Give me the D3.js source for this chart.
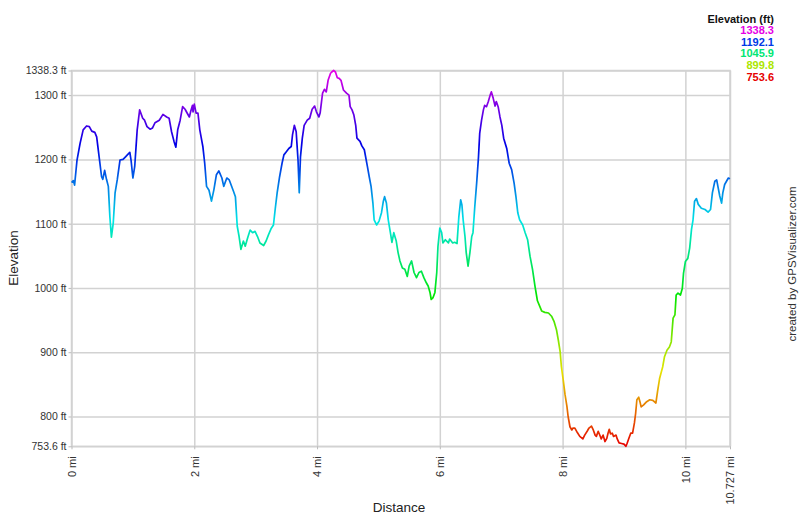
<!DOCTYPE html>
<html><head><meta charset="utf-8">
<script src="https://cdn.jsdelivr.net/npm/d3@7"></script>
<style>body{margin:0;background:#fff}svg{display:block;font-family:"Liberation Sans",Arial,sans-serif}</style>
</head><body><svg id="c" width="800" height="517"></svg>
<script>
const distance = [0,0.03,0.05,0.09,0.14,0.19,0.245,0.29,0.33,0.38,0.41,0.45,0.49,0.51,0.54,0.57,0.60,0.625,0.65,0.68,0.71,0.745,0.79,0.84,0.88,0.91,0.95,0.97,1.0,1.03,1.07,1.11,1.16,1.19,1.23,1.28,1.32,1.36,1.43,1.49,1.55,1.59,1.63,1.67,1.70,1.73,1.77,1.81,1.85,1.89,1.92,1.94,1.97,1.98,2.0,2.03,2.06,2.09,2.14,2.17,2.20,2.24,2.28,2.32,2.36,2.40,2.45,2.48,2.53,2.57,
2.64,2.67,2.70,2.73,2.76,2.80,2.83,2.87,2.91,2.95,2.99,3.03,3.07,3.13,3.17,3.21,3.25,3.29,3.32,3.35,3.39,3.43,3.46,3.50,3.54,3.58,3.60,3.63,3.66,3.69,3.71,3.73,3.76,3.79,3.84,3.88,3.92,3.96,3.99,4.03,4.05,4.09,4.12,4.15,4.18,4.22,4.24,4.27,4.30,4.33,4.36,4.39,4.43,4.48,4.52,4.54,4.57,4.60,4.63,4.65,4.70,4.73,4.77,4.82,4.85,4.88,4.91,4.93,4.97,5.01,5.05,5.08,5.10,5.13,5.16,5.20,5.22,5.25,5.29,5.32,
5.35,5.39,5.43,5.47,5.50,5.54,5.58,5.62,5.66,5.70,5.74,5.78,5.81,5.84,5.86,5.89,5.92,5.95,5.97,6.0,6.03,6.05,6.09,6.14,6.16,6.21,6.24,6.28,6.31,6.34,6.36,6.38,6.41,6.43,6.46,6.49,6.52,6.54,6.57,6.60,6.63,6.65,6.68,6.71,6.73,6.76,6.79,6.82,6.84,6.87,6.90,6.92,6.95,6.98,7.01,7.04,7.09,7.13,7.17,7.21,7.24,7.27,7.30,7.35,7.39,7.43,7.47,7.51,7.55,7.59,
7.63,7.66,7.71,7.77,7.82,7.86,7.90,7.93,7.96,7.98,8.01,8.04,8.07,8.09,8.12,8.15,8.17,8.20,8.24,8.28,8.33,8.36,8.40,8.43,8.47,8.50,8.53,8.55,8.58,8.61,8.63,8.66,8.69,8.72,8.74,8.76,8.78,8.81,8.83,8.87,8.89,8.92,8.96,9.00,9.03,9.05,9.08,9.11,9.14,9.17,9.19,9.21,9.24,9.26,9.28,9.32,9.37,9.42,9.47,9.52,
9.55,9.58,9.63,9.66,9.70,9.74,9.77,9.80,9.83,9.85,9.88,9.92,9.95,9.97,10.0,10.04,10.07,10.10,10.125,10.15,10.18,10.21,10.26,10.32,10.37,10.41,10.44,10.48,10.51,10.53,10.56,10.59,10.61,10.64,10.67,10.70,10.727];
const elevation = [1164,1167,1160,1199,1225,1246,1252,1251,1244,1242,1235,1204,1173,1169,1183,1169,1158,1111,1079,1101,1148,1168,1199,1200,1204,1207,1211,1199,1171,1189,1246,1277,1264,1261,1251,1247,1249,1257,1261,1270,1266,1264,1243,1228,1219,1246,1261,1282,1278,1271,1266,1274,1284,1274,1286,1272,1272,1246,1220,1194,1158,1152,1135,1153,1176,1182,1171,1158,1171,1168,
1150,1142,1096,1080,1060,1073,1065,1078,1090,1086,1088,1080,1070,1066,1073,1083,1092,1098,1124,1148,1173,1194,1207,1212,1217,1220,1238,1253,1243,1199,1148,1204,1233,1253,1261,1264,1278,1283,1274,1266,1272,1303,1309,1305,1323,1334,1336,1338.3,1336,1327,1326,1323,1308,1303,1300,1282,1277,1269,1253,1233,1228,1221,1215,1189,1173,1158,1132,1106,1098,1104,1117,1135,1142,1132,1106,1083,1071,1086,1073,1055,
1042,1031,1029,1018,1034,1042,1024,1016,1024,1026,1016,1008,1003,993,982,985,993,1024,1065,1093,1086,1070,1075,1070,1076,1070,1071,1069,1111,1137,1129,1106,1080,1055,1034,1055,1080,1086,1127,1163,1204,1241,1261,1277,1284,1282,1290,1300,1305,1295,1283,1290,1282,1266,1253,1233,1217,1194,1184,1163,1142,1117,1106,1098,1086,1075,1049,1029,1003,980,
971,964,962,961,956,948,935,919,901,878,857,834,816,800,784,779,782,782,775,769,765,771,777,782,785,779,771,769,777,770,765,771,761,766,774,780,773,774,769,771,765,759,758,757,753.6,758,766,774,774,790,805,826,830,823,815,818,823,826,825,821,
841,859,877,893,903,908,916,953,958,989,992,989,999,1023,1041,1046,1062,1091,1106,1135,1139,1130,1124,1122,1118,1122,1148,1166,1168,1158,1143,1132,1148,1161,1166,1171,1170];
const yTicks = [753.6,800,900,1000,1100,1200,1300,1338.3];
const yTickLabels = ["753.6 ft","800 ft","900 ft","1000 ft","1100 ft","1200 ft","1300 ft","1338.3 ft"];
const xTicks = [0,2,4,6,8,10,10.727];
const xTickLabels = ["0 mi","2 mi","4 mi","6 mi","8 mi","10 mi","10.727 mi"];
const legendValues = [1338.3,1192.1,1045.9,899.8,753.6];

const svg = d3.select("#c");
const x = d3.scaleLinear().domain([0,10.727]).range([71.5,730]);
const y = d3.scaleLinear().domain([753.6,1338.3]).range([446.3,70.5]);
const hue = d3.scaleLinear().domain([753.6,1338.3]).range([0,300]);
const color = v => d3.hsl(hue(v),1,0.45).formatHex();
const gridC = "#d2d2d2";

// gridlines
const gx = svg.append("g").attr("transform",`translate(0,${y.range()[0]})`)
  .call(d3.axisBottom(x).tickValues(xTicks).tickSize(-(y.range()[0]-y.range()[1])).tickFormat(""));
gx.selectAll("line").attr("stroke",gridC).attr("stroke-width",1.5);
gx.select(".domain").remove();
const gy = svg.append("g").attr("transform",`translate(${x.range()[0]},0)`)
  .call(d3.axisLeft(y).tickValues(yTicks).tickSize(-(x.range()[1]-x.range()[0])).tickFormat(""));
gy.selectAll("line").attr("stroke",gridC).attr("stroke-width",1.5);
gy.select(".domain").remove();

// frame
svg.append("rect").attr("x",x.range()[0]).attr("y",y.range()[1]).attr("width",x.range()[1]-x.range()[0]).attr("height",y.range()[0]-y.range()[1])
  .attr("fill","none").attr("stroke",gridC).attr("stroke-width",1.5);

// axes with labels
const ay = svg.append("g").attr("transform",`translate(${x.range()[0]},0)`)
  .call(d3.axisLeft(y).tickValues(yTicks).tickSize(3).tickPadding(2).tickFormat((d,i)=>yTickLabels[i]));
ay.select(".domain").remove();
ay.selectAll("line").attr("stroke","#bbb");
ay.selectAll("text").attr("font-size",10.5).attr("fill","#333").attr("font-family","Liberation Sans, Arial");

const ax = svg.append("g").attr("transform",`translate(0,${y.range()[0]})`)
  .call(d3.axisBottom(x).tickValues(xTicks).tickSize(3).tickFormat((d,i)=>xTickLabels[i]));
ax.select(".domain").remove();
ax.selectAll("line").attr("stroke","#bbb");
ax.selectAll("text").attr("font-size",11).attr("fill","#333").attr("font-family","Liberation Sans, Arial")
  .attr("transform","rotate(-90)").attr("text-anchor","end").attr("x",-10).attr("y",0).attr("dy","0.35em");

// gradient
const defs = svg.append("defs");
const grad = defs.append("linearGradient").attr("id","eg").attr("gradientUnits","userSpaceOnUse")
  .attr("x1",0).attr("x2",0).attr("y1",y(753.6)).attr("y2",y(1338.3));
d3.range(0,1.0001,0.05).forEach(t=>{
  const v = 753.6 + t*(1338.3-753.6);
  grad.append("stop").attr("offset",t).attr("stop-color",color(v));
});

const data = distance.map((d,i)=>[d,elevation[i]]);
svg.append("path").datum(data)
  .attr("fill","none").attr("stroke","url(#eg)").attr("stroke-width",1.7).attr("stroke-linejoin","round")
  .attr("d",d3.line().x(d=>x(d[0])).y(d=>y(d[1])));

// titles
svg.append("text").attr("transform","translate(18,258) rotate(-90)").attr("text-anchor","middle")
  .attr("font-size",13.5).attr("fill","#222").text("Elevation");
svg.append("text").attr("x",399).attr("y",512).attr("text-anchor","middle")
  .attr("font-size",13.5).attr("fill","#222").text("Distance");
svg.append("text").attr("transform","translate(796,264) rotate(-90)").attr("text-anchor","middle")
  .attr("font-size",11.5).attr("fill","#333").text("created by GPSVisualizer.com");

// legend
svg.append("text").attr("x",774).attr("y",23).attr("text-anchor","end").attr("font-size",11).attr("font-weight","bold").attr("fill","#111").text("Elevation (ft)");
svg.selectAll(".lg").data(legendValues).enter().append("text")
  .attr("x",774).attr("y",(d,i)=>33.8+i*11.7).attr("text-anchor","end").attr("font-size",11)
  .attr("font-weight","bold").attr("fill",d=>color(d)).text(d=>d.toFixed(1));
</script></body></html>
